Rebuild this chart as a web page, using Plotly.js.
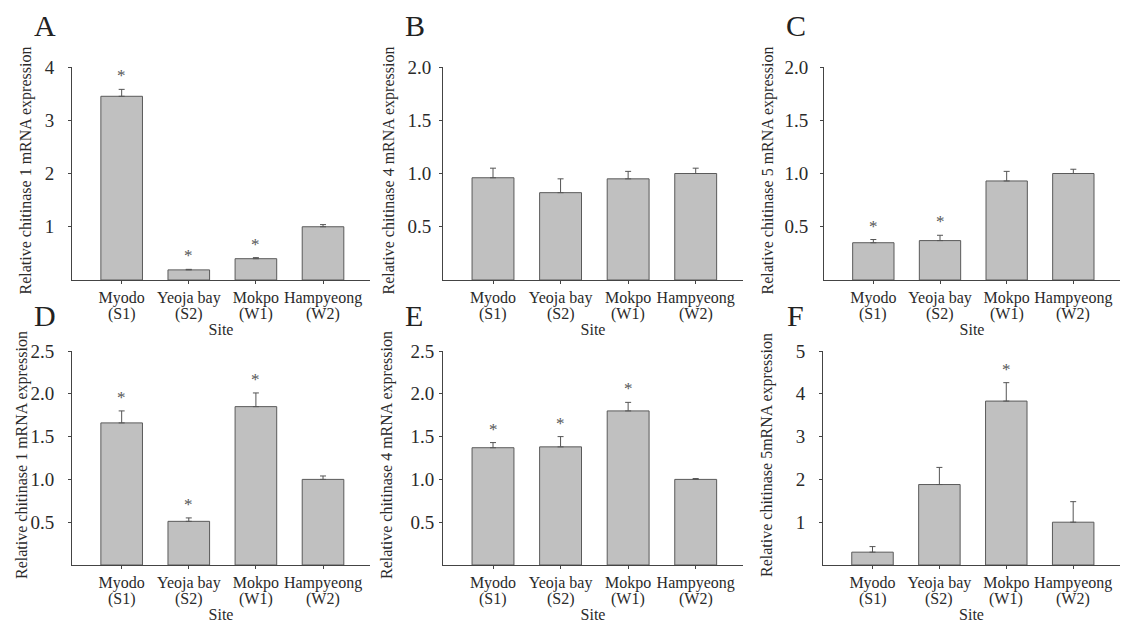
<!DOCTYPE html>
<html>
<head>
<meta charset="utf-8">
<script src="https://cdn.plot.ly/plotly-3.0.1.min.js"></script>
<style>html,body{margin:0;padding:0;background:#fff;}#chart{width:1137px;height:635px;}</style>
</head>
<body>
<div id="chart"></div>
<script>
// ---- data ----
const sites = ['Myodo', 'Yeoja bay', 'Mokpo', 'Hampyeong'];
const siteCodes = ['(S1)', '(S2)', '(W1)', '(W2)'];
const xTitle = 'Site';

const titleA = 'Relative chitinase 1 mRNA expression';
const meanA = [3.45, 0.19, 0.40, 1.00];
const errA  = [0.13, 0.01, 0.02, 0.04];
const sigA  = [1, 1, 1, 0];
const ticksA = [1, 2, 3, 4];
const tickLabelsA = ['1', '2', '3', '4'];

const titleB = 'Relative chitinase 4 mRNA expression';
const meanB = [0.96, 0.82, 0.95, 1.00];
const errB  = [0.09, 0.13, 0.07, 0.05];
const sigB  = [0, 0, 0, 0];
const ticksB = [0.5, 1.0, 1.5, 2.0];
const tickLabelsB = ['0.5', '1.0', '1.5', '2.0'];

const titleC = 'Relative chitinase 5 mRNA expression';
const meanC = [0.35, 0.37, 0.93, 1.00];
const errC  = [0.03, 0.05, 0.09, 0.04];
const sigC  = [1, 1, 0, 0];
const ticksC = [0.5, 1.0, 1.5, 2.0];
const tickLabelsC = ['0.5', '1.0', '1.5', '2.0'];

const titleD = 'Relative chitinase 1 mRNA expression';
const meanD = [1.66, 0.51, 1.85, 1.00];
const errD  = [0.14, 0.04, 0.16, 0.04];
const sigD  = [1, 1, 1, 0];
const ticksD = [0.5, 1.0, 1.5, 2.0, 2.5];
const tickLabelsD = ['0.5', '1.0', '1.5', '2.0', '2.5'];

const titleE = 'Relative chitinase 4 mRNA expression';
const meanE = [1.37, 1.38, 1.80, 1.00];
const errE  = [0.06, 0.12, 0.10, 0.01];
const sigE  = [1, 1, 1, 0];
const ticksE = [0.5, 1.0, 1.5, 2.0, 2.5];
const tickLabelsE = ['0.5', '1.0', '1.5', '2.0', '2.5'];

const titleF = 'Relative chitinase 5mRNA expression';
const meanF = [0.30, 1.88, 3.83, 1.00];
const errF  = [0.13, 0.40, 0.43, 0.48];
const sigF  = [0, 0, 1, 0];
const ticksF = [1, 2, 3, 4, 5];
const tickLabelsF = ['1', '2', '3', '4', '5'];

const panelLetters = ['A', 'B', 'C', 'D', 'E', 'F'];

// ---- layout helpers ----
const W = 1137, H = 635;
const FONT = 'Liberation Serif, Times New Roman, Times, serif';
const TXT = '#2a2a2a';
const AXC = '#444444';

const panels = [
  {mean: meanA, err: errA, sig: sigA, title: titleA, ticks: ticksA, labels: tickLabelsA, ymax: 4,
   px: [72, 370], py: [67, 280], tfs: 19, tstand: 10, ytx: 25, letter: [45, 25]},
  {mean: meanB, err: errB, sig: sigB, title: titleB, ticks: ticksB, labels: tickLabelsB, ymax: 2,
   px: [443, 743], py: [67, 280], tfs: 19, tstand: 4, ytx: 388, letter: [415, 25]},
  {mean: meanC, err: errC, sig: sigC, title: titleC, ticks: ticksC, labels: tickLabelsC, ymax: 2,
   px: [824, 1120], py: [67, 280], tfs: 19, tstand: 8, ytx: 767, letter: [796, 25]},
  {mean: meanD, err: errD, sig: sigD, title: titleD, ticks: ticksD, labels: tickLabelsD, ymax: 2.5,
   px: [72, 370], py: [351, 565], tfs: 19, tstand: 10, ytx: 22, letter: [45, 315]},
  {mean: meanE, err: errE, sig: sigE, title: titleE, ticks: ticksE, labels: tickLabelsE, ymax: 2.5,
   px: [443, 743], py: [351, 565], tfs: 19, tstand: 1, ytx: 387, letter: [414, 315]},
  {mean: meanF, err: errF, sig: sigF, title: titleF, ticks: ticksF, labels: tickLabelsF, ymax: 5,
   px: [823, 1120], py: [351, 565], tfs: 19, tstand: 10, ytx: 767, letter: [795, 315]}
];

const traces = [];
const annotations = [];
const layout = {
  width: W, height: H,
  margin: {l: 0, r: 0, t: 0, b: 0},
  paper_bgcolor: '#ffffff', plot_bgcolor: '#ffffff',
  showlegend: false,
  font: {family: FONT, color: TXT, size: 16},
  annotations: annotations
};

panels.forEach((p, k) => {
  const n = k === 0 ? '' : String(k + 1);
  const xa = 'x' + n, ya = 'y' + n;
  const zeros = p.mean.map(() => 0);
  traces.push({
    type: 'bar', x: sites, y: p.mean,
    xaxis: xa, yaxis: ya,
    width: 0.62,
    marker: {color: '#c0c0c0', line: {color: '#5a5a5a', width: 1}},
    error_y: {type: 'data', symmetric: false, array: p.err, arrayminus: zeros,
              color: '#555555', thickness: 1, width: 3},
    hoverinfo: 'y'
  });
  layout['xaxis' + n] = {
    domain: [p.px[0] / W, p.px[1] / W],
    anchor: ya, type: 'category',
    range: [-0.74, 3.7], fixedrange: true,
    showline: true, linecolor: AXC, linewidth: 1,
    showgrid: false, zeroline: false,
    ticks: 'outside', ticklen: 3, tickcolor: AXC,
    tickmode: 'array', tickvals: sites, ticktext: sites,
    tickfont: {family: FONT, size: 16, color: TXT},
    title: {text: xTitle, font: {family: FONT, size: 16, color: TXT}, standoff: 17}
  };
  layout['yaxis' + n] = {
    domain: [1 - p.py[1] / H, 1 - p.py[0] / H],
    anchor: xa, range: [0, p.ymax], fixedrange: true,
    showline: true, linecolor: AXC, linewidth: 1,
    showgrid: false, zeroline: false,
    ticks: 'outside', ticklen: 3, tickcolor: AXC,
    tickmode: 'array', tickvals: p.ticks, ticktext: p.labels,
    ticklabelstandoff: p.tstand,
    tickfont: {family: FONT, size: p.tfs, color: TXT}
  };
  // second line of each category label (site code)
  siteCodes.forEach((c, i) => {
    annotations.push({
      xref: xa, yref: ya + ' domain', x: sites[i], y: 0,
      xanchor: 'center', yanchor: 'top', yshift: -23,
      text: c, showarrow: false,
      font: {family: FONT, size: 16, color: TXT}
    });
  });
  // y-axis title
  annotations.push({
    xref: 'paper', yref: ya + ' domain', x: p.ytx / W, y: 0.5, yshift: 3,
    xanchor: 'center', yanchor: 'middle', textangle: -90,
    text: p.title, showarrow: false,
    font: {family: FONT, size: 16, color: TXT}
  });
  // significance marks
  p.sig.forEach((s, i) => {
    if (s) {
      annotations.push({
        xref: xa, yref: ya, x: sites[i], y: p.mean[i] + p.err[i],
        text: '*', showarrow: false, yanchor: 'bottom', yshift: 2,
        font: {family: FONT, size: 17, color: '#555555'}
      });
    }
  });
  annotations.push({
    xref: 'paper', yref: 'paper', x: p.letter[0] / W, y: 1 - p.letter[1] / H,
    xanchor: 'center', yanchor: 'middle', text: panelLetters[k], showarrow: false,
    font: {family: FONT, size: 30, color: '#222222'}
  });
});

Plotly.newPlot('chart', traces, layout, {displayModeBar: false, staticPlot: true});
</script>
</body>
</html>
